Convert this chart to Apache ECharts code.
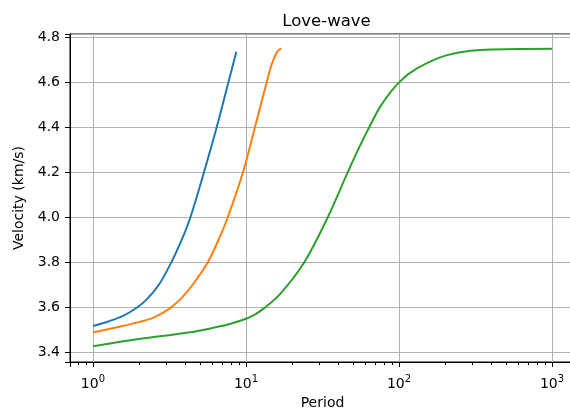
<!DOCTYPE html>
<html lang="en">

<head>
    <meta charset="UTF-8">
    <script src="https://cdn.jsdelivr.net/npm/echarts@6.0.0/dist/echarts.min.js"></script>
    <title>Love-wave</title>
    <style>
        html, body { margin: 0; padding: 0; background: #fff; }
    </style>
</head>

<body>
    <div id="main" style="width: 570px;height:413px;"></div>
    <script>
        // dispersion curves (period in s, velocity in km/s)
        var bluePeriod = [1, 1.26, 1.585, 1.92, 2.24, 2.69, 3.25, 3.8, 4.33, 5.31, 6.43, 7.67, 8.65];
        var blueVel = [3.518, 3.538, 3.564, 3.598, 3.635, 3.70, 3.8, 3.9, 4.0, 4.2, 4.4, 4.6, 4.736];

        var orangePeriod = [1, 1.41, 2.0, 2.51, 3.16, 3.8, 4.47, 5.62, 6.61, 7.59, 9.55, 11.43, 13.65, 14.79, 16.0, 17.0];
        var orangeVel = [3.489, 3.511, 3.535, 3.556, 3.595, 3.643, 3.70, 3.8, 3.9, 4.0, 4.2, 4.4, 4.6, 4.684, 4.736, 4.751];

        var greenPeriod = [1, 1.58, 2.04, 4.33, 6.31, 7.94, 10, 11.48, 13.03, 16.8, 24, 34.2, 46.2, 53.1, 63.3, 76.7, 100, 131, 206, 340, 590, 1000];
        var greenVel = [3.428, 3.45, 3.461, 3.49, 3.512, 3.528, 3.55, 3.57, 3.595, 3.662, 3.8, 4.0, 4.2, 4.29, 4.395, 4.5, 4.6, 4.662, 4.721, 4.744, 4.748, 4.749];

        // tick labels
        var xTicks = [1, 10, 100, 1000];
        var xTickExp = ['0', '1', '2', '3'];
        var yTicks = [3.4, 3.6, 3.8, 4.0, 4.2, 4.4, 4.6, 4.8];
        var xMinor = [0.8, 0.9, 2, 3, 4, 5, 6, 7, 8, 9, 20, 30, 40, 50, 60, 70, 80, 90,
            200, 300, 400, 500, 600, 700, 800, 900];

        var X_MIN = 0.708, X_MAX = 1413;
        var Y_MIN = 3.358, Y_MAX = 4.815;
        var font = 'DejaVu Sans';

        function pairs(xs, ys) {
            return xs.map(function (x, i) { return [x, ys[i]]; });
        }

        function curve(xs, ys, color) {
            return {
                type: 'line',
                data: pairs(xs, ys),
                showSymbol: false,
                smooth: 0.35,
                lineStyle: { color: color, width: 2 },
                z: 3
            };
        }

        var myChart = echarts.init(document.getElementById('main'));

        var option = {
            animation: false,
            title: {
                text: 'Love-wave',
                left: 321.5,
                top: 8,
                textAlign: 'center',
                textStyle: { fontFamily: font, fontSize: 16.5, fontWeight: 'normal', color: '#000' }
            },
            grid: {
                left: 70,
                top: 34,
                width: 505,
                height: 328,
                outerBoundsMode: 'none',
                show: true,
                borderColor: '#000',
                borderWidth: 1
            },
            xAxis: {
                type: 'log',
                logBase: 10,
                min: X_MIN,
                max: X_MAX,
                name: 'Period',
                nameLocation: 'middle',
                nameGap: 33,
                nameTextStyle: { fontFamily: font, fontSize: 14, color: '#000' },
                axisLine: { lineStyle: { color: '#000', width: 1 } },
                axisTick: { length: 5, inside: false, lineStyle: { color: '#000' } },
                splitLine: { show: true, lineStyle: { color: '#b0b0b0', width: 1 } },
                axisLabel: {
                    margin: 12,
                    formatter: function (v) {
                        for (var i = 0; i < xTicks.length; i++) {
                            if (Math.abs(v - xTicks[i]) < 1e-6 * xTicks[i]) {
                                return '{b|10}{s|' + xTickExp[i] + '}';
                            }
                        }
                        return '';
                    },
                    rich: {
                        b: { fontFamily: font, fontSize: 14, color: '#000', lineHeight: 20 },
                        s: { fontFamily: font, fontSize: 10, color: '#000', lineHeight: 12, verticalAlign: 'top' }
                    }
                }
            },
            yAxis: {
                type: 'value',
                min: Y_MIN,
                max: Y_MAX,
                splitNumber: 7,
                name: 'Velocity (km/s)',
                nameLocation: 'middle',
                nameGap: 44,
                nameTextStyle: { fontFamily: font, fontSize: 14, color: '#000' },
                axisLine: { show: true, lineStyle: { color: '#000', width: 1 } },
                axisTick: { show: true, length: 5, lineStyle: { color: '#000' } },
                splitLine: { show: true, lineStyle: { color: '#b0b0b0', width: 1 } },
                axisLabel: {
                    margin: 10,
                    fontFamily: font,
                    fontSize: 14,
                    color: '#000',
                    formatter: function (v) {
                        for (var i = 0; i < yTicks.length; i++) {
                            if (Math.abs(v - yTicks[i]) < 1e-6) return yTicks[i].toFixed(1);
                        }
                        return '';
                    }
                }
            },
            series: [
                curve(bluePeriod, blueVel, '#1f77b4'),
                curve(orangePeriod, orangeVel, '#ff7f0e'),
                curve(greenPeriod, greenVel, '#2ca02c'),
                {
                    // minor ticks of the log axis
                    type: 'custom',
                    silent: true,
                    clip: false,
                    z: 5,
                    data: xMinor.map(function (v) { return [v, Y_MIN]; }),
                    renderItem: function (params, api) {
                        var p = api.coord([api.value(0), api.value(1)]);
                        var x = Math.round(p[0]) + 0.5;
                        return {
                            type: 'line',
                            shape: { x1: x, y1: p[1], x2: x, y2: p[1] + 3 },
                            style: { stroke: '#000', lineWidth: 1 }
                        };
                    }
                }
            ]
        };

        myChart.setOption(option);
    </script>
</body>

</html>
